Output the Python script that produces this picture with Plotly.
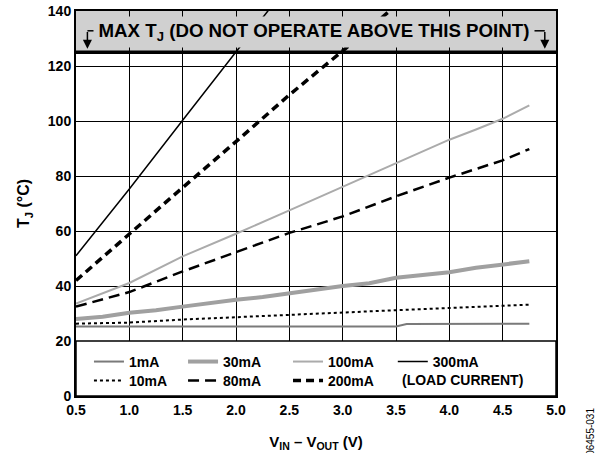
import plotly.graph_objects as go

# ---- data ----
x_1mA = [0.5, 1.0, 1.5, 2.0, 2.5, 3.0, 3.5, 3.6, 4.0, 4.5, 4.75]
y_1mA = [25.3, 25.3, 25.3, 25.3, 25.3, 25.2, 25.3, 26.2, 26.3, 26.3, 26.3]

x_10mA = [0.5, 1.0, 1.5, 2.0, 2.5, 3.0, 3.5, 4.0, 4.5, 4.75]
y_10mA = [26.3, 26.7, 27.8, 28.7, 29.4, 30.5, 31.2, 32.0, 32.7, 33.2]

x_30mA = [0.5, 0.75, 1.0, 1.25, 1.5, 1.75, 2.0, 2.25, 2.5, 2.75, 3.0, 3.25, 3.5, 3.75, 4.0, 4.25, 4.5, 4.75]
y_30mA = [28.0, 28.8, 30.3, 31.2, 32.5, 33.8, 35.0, 36.0, 37.4, 38.8, 40.0, 41.0, 43.0, 44.0, 45.0, 46.6, 47.8, 49.0]

x_80mA = [0.5, 1.0, 1.5, 2.0, 2.5, 3.0, 3.5, 4.0, 4.5, 4.75]
y_80mA = [32.5, 37.8, 45.3, 52.4, 59.3, 65.3, 72.6, 79.4, 85.7, 89.8]

x_100mA = [0.5, 1.0, 1.5, 2.0, 2.5, 3.0, 3.5, 4.0, 4.25, 4.5, 4.75]
y_100mA = [33.6, 41.1, 50.8, 59.0, 67.5, 76.0, 84.5, 93.2, 96.9, 100.8, 105.7]

x_200mA = [0.5, 1.0, 1.5, 2.0, 2.5, 3.0, 3.5]
y_200mA = [42.0, 59.0, 75.8, 92.5, 109.5, 125.5, 142.0]

x_300mA = [0.5, 1.0, 1.5, 2.0, 2.5]
y_300mA = [51.0, 75.3, 100.3, 125.5, 150.0]

x_ticks = [0.5, 1.0, 1.5, 2.0, 2.5, 3.0, 3.5, 4.0, 4.5, 5.0]
y_ticks = [0, 20, 40, 60, 80, 100, 120, 140]
max_tj = 125

FONT = "Liberation Sans, Arial, sans-serif"

# name, x, y, line style, legend column, legend row
series = [
    ("1mA", x_1mA, y_1mA, dict(color="#7a7a7a", width=2), 0, 0),
    ("30mA", x_30mA, y_30mA, dict(color="#a0a0a0", width=4), 1, 0),
    ("100mA", x_100mA, y_100mA, dict(color="#ababab", width=2), 2, 0),
    ("300mA", x_300mA, y_300mA, dict(color="#000000", width=1.5), 3, 0),
    ("10mA", x_10mA, y_10mA, dict(color="#000000", width=2, dash="dot"), 0, 1),
    ("80mA", x_80mA, y_80mA, dict(color="#000000", width=2.5, dash="11px,6px"), 1, 1),
    ("200mA", x_200mA, y_200mA, dict(color="#000000", width=3.5, dash="8px,5px"), 2, 1),
]
col_x = [0.027, 0.223, 0.4417, 0.660]
row_y = [0.130, 0.0805]

fig = go.Figure()
legends = {}
for i, (name, xs, ys, line, c, r) in enumerate(series):
    key = "legend" if i == 0 else f"legend{i + 1}"
    fig.add_trace(go.Scatter(x=xs, y=ys, mode="lines", name=name, line=line, legend=key))
    legends[key] = dict(x=col_x[c], y=row_y[r], xanchor="left", yanchor="top",
                        orientation="v", bgcolor="rgba(0,0,0,0)", itemwidth=30,
                        font=dict(family=FONT, size=14, color="black", weight="bold"))

shapes = [
    dict(type="rect", xref="x", yref="y", x0=0.5, x1=5.0, y0=max_tj, y1=140,
         fillcolor="#d0d0d0", line=dict(width=0), layer="below"),
    dict(type="line", xref="x", yref="y", x0=0.5, x1=5.0, y0=max_tj, y1=max_tj,
         line=dict(color="black", width=3.5), layer="above"),
    dict(type="rect", xref="x", yref="y", x0=0.5, x1=5.0, y0=0, y1=20,
         fillcolor="white", line=dict(color="black", width=1.5), layer="above"),
    dict(type="line", xref="x", yref="y", x0=0.607, x1=0.69, y0=132.8, y1=132.8,
         line=dict(color="black", width=1.5), layer="above"),
    dict(type="line", xref="x", yref="y", x0=4.79, x1=4.895, y0=132.8, y1=132.8,
         line=dict(color="black", width=1.5), layer="above"),
]

annotations = [
    dict(x=2.727, y=132.4, xref="x", yref="y", showarrow=False,
         text="MAX T<sub>J</sub> (DO NOT OPERATE ABOVE THIS POINT)",
         font=dict(family=FONT, size=18.7, color="black", weight="bold"),
         bgcolor="#d0d0d0", width=440, height=30, borderpad=0),
    dict(x=0.607, y=126.3, ax=0.607, ay=132.9, xref="x", yref="y", axref="x", ayref="y",
         text="", showarrow=True, arrowhead=2, arrowsize=1.2, arrowwidth=1.5,
         arrowcolor="black", standoff=0, startstandoff=0),
    dict(x=4.895, y=126.3, ax=4.895, ay=132.9, xref="x", yref="y", axref="x", ayref="y",
         text="", showarrow=True, arrowhead=2, arrowsize=1.2, arrowwidth=1.5,
         arrowcolor="black", standoff=0, startstandoff=0),
    dict(x=3.537, y=5.7, xref="x", yref="y", showarrow=False, xanchor="left",
         text="(LOAD CURRENT)",
         font=dict(family=FONT, size=14, color="black", weight="bold")),
    dict(x=1.073, y=-0.093, xref="paper", yref="paper", showarrow=False,
         xanchor="center", yanchor="middle",
         text="06455-031", textangle=-90,
         font=dict(family=FONT, size=10, color="black")),
]

fig.update_layout(
    template="none",
    width=596, height=453,
    margin=dict(l=76, r=40, t=11, b=57, autoexpand=False),
    paper_bgcolor="white", plot_bgcolor="white",
    font=dict(family=FONT, size=14, color="black"),
    shapes=shapes, annotations=annotations,
    showlegend=True,
    **legends,
)

fig.update_xaxes(range=[0.5, 5.0], tickvals=x_ticks, automargin=False,
                 ticktext=[f"{v:.1f}" for v in x_ticks], ticklabeloverflow="allow",
                 showgrid=True, gridcolor="black", gridwidth=1.3,
                 showline=True, linecolor="black", linewidth=2, mirror=True,
                 ticks="", zeroline=False,
                 tickfont=dict(family=FONT, size=14, weight="bold"),
                 title=dict(text="V<sub>IN</sub> – V<sub>OUT</sub> (V)", standoff=20,
                            font=dict(family=FONT, size=15, weight="bold")))
fig.update_yaxes(range=[0, 140], tickvals=y_ticks, automargin=False,
                 ticklabeloverflow="allow",
                 showgrid=True, gridcolor="black", gridwidth=1.3,
                 showline=True, linecolor="black", linewidth=2, mirror=True,
                 ticks="", zeroline=False,
                 tickfont=dict(family=FONT, size=14, weight="bold"),
                 title=dict(text="T<sub>J</sub> (°C)", standoff=14,
                            font=dict(family=FONT, size=16, weight="bold")))

fig.write_html("out.html", config={"displayModeBar": False},
               post_script="document.body.style.margin='0';")
